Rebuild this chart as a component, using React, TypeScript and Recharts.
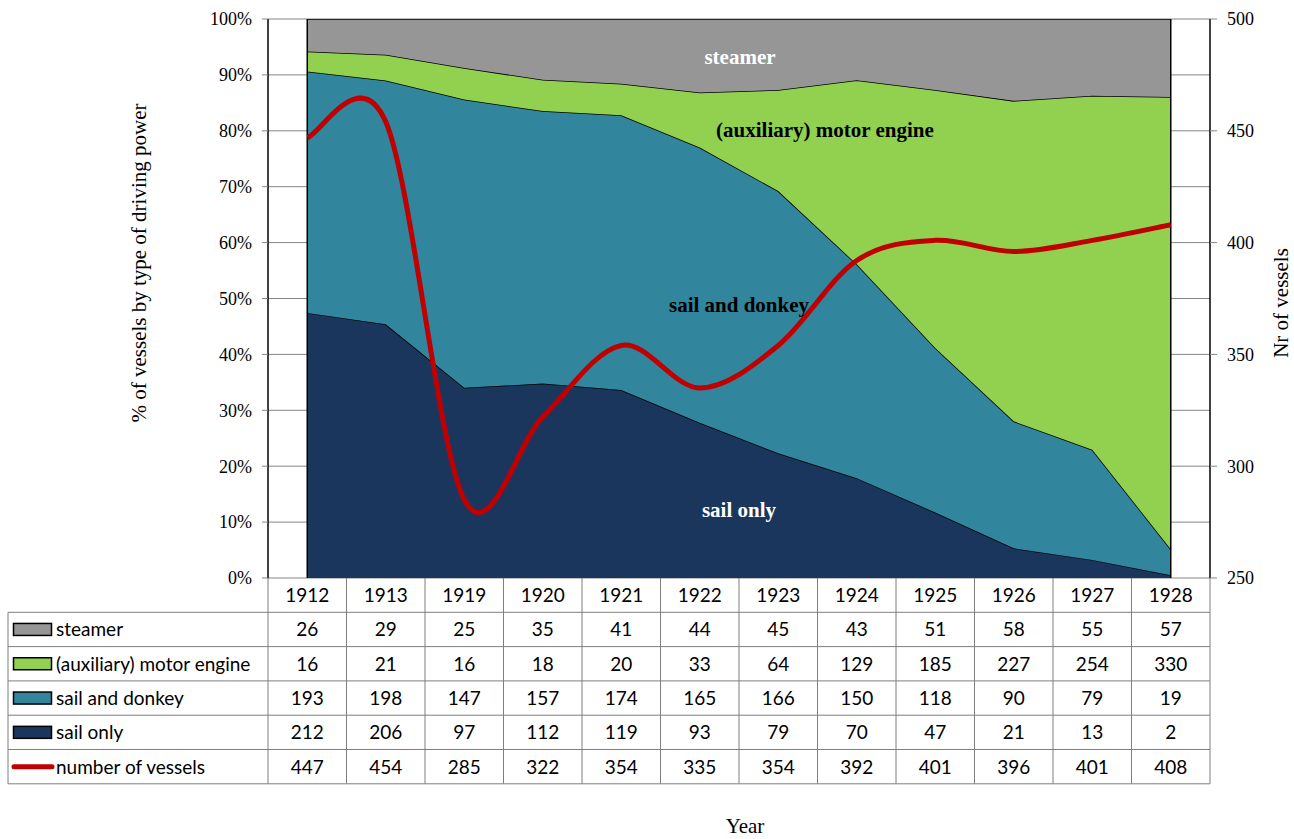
import React from "react";
import {
  ComposedChart,
  Area,
  Line,
  XAxis,
  YAxis,
  CartesianGrid,
  ReferenceLine,
} from "recharts";

const years = ["1912", "1913", "1919", "1920", "1921", "1922", "1923", "1924", "1925", "1926", "1927", "1928"];
const steamer = [26, 29, 25, 35, 41, 44, 45, 43, 51, 58, 55, 57];
const motorEngine = [16, 21, 16, 18, 20, 33, 64, 129, 185, 227, 254, 330];
const sailAndDonkey = [193, 198, 147, 157, 174, 165, 166, 150, 118, 90, 79, 19];
const sailOnly = [212, 206, 97, 112, 119, 93, 79, 70, 47, 21, 13, 2];
const vessels = [447, 454, 285, 322, 354, 335, 354, 392, 401, 396, 401, 408];

const leftTicks = [0, 0.1, 0.2, 0.3, 0.4, 0.5, 0.6, 0.7, 0.8, 0.9, 1];
const rightTicks = [250, 300, 350, 400, 450, 500];

// 100% stacked shares, computed from the counts above
const data = years.map((y, i) => {
  const total = steamer[i] + motorEngine[i] + sailAndDonkey[i] + sailOnly[i];
  return {
    year: y,
    steamer: steamer[i] / total,
    motor: motorEngine[i] / total,
    donkey: sailAndDonkey[i] / total,
    sail: sailOnly[i] / total,
    vessels: vessels[i],
  };
});

const C_STEAM = "#969696";
const C_MOTOR = "#92d050";
const C_DONKEY = "#31859c";
const C_SAIL = "#1a365d";
const C_LINE = "#c00000";

// Excel-like smoothed line (cubic Bezier, Catmull-Rom style control points)
function excelSmooth(context: any) {
  let xs: number[] = [];
  let ys: number[] = [];
  return {
    areaStart() {},
    areaEnd() {},
    lineStart() {
      xs = [];
      ys = [];
    },
    point(x: number, y: number) {
      xs.push(+x);
      ys.push(+y);
    },
    lineEnd() {
      const n = xs.length;
      if (!n) return;
      context.moveTo(xs[0], ys[0]);
      for (let i = 0; i < n - 1; i++) {
        const a = Math.max(i - 1, 0);
        const d = Math.min(i + 2, n - 1);
        const c1x = xs[i] + (xs[i + 1] - xs[a]) / 6;
        const c1y = ys[i] + (ys[i + 1] - ys[a]) / 6;
        const c2x = xs[i + 1] - (xs[d] - xs[i]) / 6;
        const c2y = ys[i + 1] - (ys[d] - ys[i]) / 6;
        context.bezierCurveTo(c1x, c1y, c2x, c2y, xs[i + 1], ys[i + 1]);
      }
    },
  };
}

const SERIF = "'Liberation Serif', 'DejaVu Serif', serif";
const SANS = "Lato, 'Liberation Sans', sans-serif";

const PLOT_LEFT = 268;
const PLOT_RIGHT = 1210;
const PLOT_TOP = 19;
const PLOT_BOTTOM = 578;
const COL_W = (PLOT_RIGHT - PLOT_LEFT) / years.length;
const ROW_H = 34.3;
const TABLE_LEFT = 8;
const TFS = 19;

const rows = [
  { label: "steamer", values: steamer, color: C_STEAM, kind: "box" },
  { label: "(auxiliary) motor engine", values: motorEngine, color: C_MOTOR, kind: "box" },
  { label: "sail and donkey", values: sailAndDonkey, color: C_DONKEY, kind: "box" },
  { label: "sail only", values: sailOnly, color: C_SAIL, kind: "box" },
  { label: "number of vessels", values: vessels, color: C_LINE, kind: "line" },
];

function DataTable() {
  const top = PLOT_BOTTOM;
  const bottom = top + ROW_H * (rows.length + 1);
  const elems: React.ReactNode[] = [];
  for (let r = 1; r <= rows.length + 1; r++) {
    const y = top + ROW_H * r;
    elems.push(<line key={"h" + r} x1={TABLE_LEFT} x2={PLOT_RIGHT} y1={y} y2={y} stroke="#7f7f7f" strokeWidth={1} />);
  }
  for (let c = 0; c <= years.length; c++) {
    const x = PLOT_LEFT + COL_W * c;
    elems.push(<line key={"v" + c} x1={x} x2={x} y1={top} y2={bottom} stroke="#7f7f7f" strokeWidth={1} />);
  }
  elems.push(<line key="vl" x1={TABLE_LEFT} x2={TABLE_LEFT} y1={top + ROW_H} y2={bottom} stroke="#7f7f7f" strokeWidth={1} />);
  years.forEach((y, i) => {
    elems.push(
      <text key={"y" + i} x={PLOT_LEFT + COL_W * (i + 0.5)} y={top + ROW_H / 2 + 7} textAnchor="middle" fontFamily={SANS} fontSize={TFS} fill="#000">
        {y}
      </text>
    );
  });
  rows.forEach((row, r) => {
    const cy = top + ROW_H * (r + 1.5);
    if (row.kind === "box") {
      elems.push(<rect key={"s" + r} x={13.5} y={cy - 6} width={38} height={12} fill={row.color} stroke="#000" strokeWidth={1.5} />);
    } else {
      elems.push(<line key={"s" + r} x1={14} x2={52} y1={cy} y2={cy} stroke={row.color} strokeWidth={5} strokeLinecap="round" />);
    }
    elems.push(
      <text key={"l" + r} x={56} y={cy + 7} fontFamily={SANS} fontSize={TFS} fill="#000">
        {row.label}
      </text>
    );
    row.values.forEach((v, i) => {
      elems.push(
        <text key={"c" + r + "-" + i} x={PLOT_LEFT + COL_W * (i + 0.5)} y={cy + 7} textAnchor="middle" fontFamily={SANS} fontSize={TFS} fill="#000">
          {v}
        </text>
      );
    });
  });
  return (
    <svg width={1294} height={839} style={{ position: "absolute", left: 0, top: 0, pointerEvents: "none" }}>
      {elems}
      <text x={745} y={833} textAnchor="middle" fontFamily={SERIF} fontSize={21} fill="#000">Year</text>
      <text transform="translate(146,263) rotate(-90)" textAnchor="middle" fontFamily={SERIF} fontSize={21} fill="#000">
        % of vessels by type of driving power
      </text>
      <text transform="translate(1288,303) rotate(-90)" textAnchor="middle" fontFamily={SERIF} fontSize={21} fill="#000">
        Nr of vessels
      </text>
      <text x={740} y={64} textAnchor="middle" fontFamily={SERIF} fontWeight="bold" fontSize={21} fill="#fff">steamer</text>
      <text x={825} y={137} textAnchor="middle" fontFamily={SERIF} fontWeight="bold" fontSize={21} fill="#000">(auxiliary) motor engine</text>
      <text x={739} y={312} textAnchor="middle" fontFamily={SERIF} fontWeight="bold" fontSize={21} fill="#000">sail and donkey</text>
      <text x={739} y={517} textAnchor="middle" fontFamily={SERIF} fontWeight="bold" fontSize={21} fill="#fff">sail only</text>
    </svg>
  );
}

export default function App() {
  const chartH = 600;
  const axisW = 70;
  return (
    <div style={{ position: "absolute", left: 0, top: 0, width: 1294, height: 839, background: "#fff" }}>
      <ComposedChart
        width={1294}
        height={chartH}
        data={data}
        margin={{ top: PLOT_TOP, bottom: chartH - PLOT_BOTTOM, left: PLOT_LEFT - axisW, right: 1294 - PLOT_RIGHT - axisW }}
      >
        <CartesianGrid yAxisId="left" vertical={false} horizontal stroke="#868686" strokeWidth={1} />
        <XAxis
          dataKey="year"
          height={0}
          tick={false}
          tickLine={false}
          padding={{ left: COL_W / 2, right: COL_W / 2 }}
          axisLine={{ stroke: "#000", strokeWidth: 1.5 }}
        />
        <YAxis
          yAxisId="left"
          width={axisW}
          domain={[0, 1]}
          allowDataOverflow
          ticks={leftTicks}
          interval={0}
          tickFormatter={(v: number) => `${Math.round(v * 100)}%`}
          tick={{ fontFamily: SERIF, fontSize: 18, fill: "#000" }}
          tickLine={{ stroke: "#868686" }}
          tickSize={6}
          tickMargin={10}
          axisLine={{ stroke: "#000", strokeWidth: 1.5 }}
        />
        <YAxis
          yAxisId="right"
          orientation="right"
          width={axisW}
          domain={[250, 500]}
          allowDataOverflow
          ticks={rightTicks}
          interval={0}
          tick={{ fontFamily: SERIF, fontSize: 18, fill: "#000" }}
          tickLine={{ stroke: "#868686" }}
          tickSize={7}
          tickMargin={10}
          axisLine={{ stroke: "#000", strokeWidth: 1.5 }}
        />
        <Area yAxisId="left" dataKey="sail" stackId="a" type="linear" fill={C_SAIL} fillOpacity={1} stroke="#000" strokeWidth={1.5} isAnimationActive={false} />
        <Area yAxisId="left" dataKey="donkey" stackId="a" type="linear" fill={C_DONKEY} fillOpacity={1} stroke="#000" strokeWidth={1.5} isAnimationActive={false} />
        <Area yAxisId="left" dataKey="motor" stackId="a" type="linear" fill={C_MOTOR} fillOpacity={1} stroke="#000" strokeWidth={1.5} isAnimationActive={false} />
        <Area yAxisId="left" dataKey="steamer" stackId="a" type="linear" fill={C_STEAM} fillOpacity={1} stroke="#000" strokeWidth={1.5} isAnimationActive={false} />
        <ReferenceLine yAxisId="left" x={years[0]} stroke="#000" strokeWidth={1.5} />
        <ReferenceLine yAxisId="left" x={years[years.length - 1]} stroke="#000" strokeWidth={1.5} />
        <Line
          yAxisId="right"
          dataKey="vessels"
          type={excelSmooth as any}
          stroke={C_LINE}
          strokeWidth={5}
          dot={false}
          activeDot={false}
          isAnimationActive={false}
        />
      </ComposedChart>
      <DataTable />
    </div>
  );
}
